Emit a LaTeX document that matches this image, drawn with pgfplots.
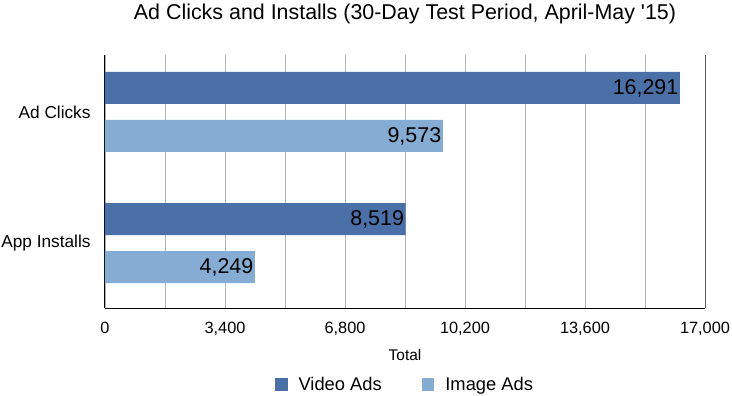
\documentclass[border=0pt]{standalone}
\usepackage{pgfplots}
\pgfplotsset{compat=1.18}
\usepackage{fontspec}
\setmainfont{Liberation Sans}
\definecolor{videoc}{HTML}{4B70A8}
\definecolor{imagec}{HTML}{85ACD3}
\begin{document}
\begin{tikzpicture}
\useasboundingbox (-105bp,-88bp) rectangle (627bp,308bp);
\begin{axis}[
  at={(0,0)}, anchor=south west,
  scale only axis, width=600bp, height=253bp,
  xmin=0, xmax=17000, ymin=-0.496, ymax=1.435,
  xbar, bar width=32bp,
  axis x line*=bottom, axis y line*=left,
  axis line style={black, line width=1bp},
  xtick={0,3400,6800,10200,13600,17000},
  minor xtick={1700,5100,8500,11900,15300},
  xmajorgrids=true, xminorgrids=true,
  grid style={draw=black!30, line width=0.9bp},
  minor grid style={draw=black!30, line width=0.9bp},
  extra x ticks={17000}, extra x tick labels={},
  extra x tick style={grid style={draw=black!65, line width=1bp}},
  major tick length=0pt, minor tick length=0pt,
  ytick={0,1}, yticklabels={App Installs,Ad Clicks},
  scaled x ticks=false,
  /pgf/number format/assume math mode=true,
  xticklabel style={font=\fontsize{16.4}{18}\selectfont, yshift=-11bp, /pgf/number format/.cd, fixed, precision=0, 1000 sep={,}},
  yticklabel style={font=\fontsize{17.3}{19}\selectfont, xshift=-11bp},
  xlabel={Total},
  xlabel style={at={(axis description cs:0.5,0)}, anchor=center, yshift=-47bp, font=\fontsize{15.5}{17}\selectfont},
  title={Ad Clicks and Installs (30-Day Test Period, April-May \textquotesingle15)},
  title style={at={(axis description cs:0.5,1)}, anchor=center, yshift=35bp, font=\fontsize{21.5}{24}\selectfont},
  point meta=x,
  nodes near coords={\pgfmathprintnumber[fixed,precision=0,1000 sep={,},assume math mode=true]{\pgfplotspointmeta}},
  nodes near coords align={anchor=east},
  every node near coord/.append style={font=\fontsize{21.5}{24}\selectfont, inner sep=1.5bp, black},
  legend columns=2,
  legend style={draw=none, at={(axis description cs:0.5,0)}, anchor=center, yshift=-76.5bp,
    font=\fontsize{18.4}{20}\selectfont,
    /tikz/every even column/.append style={column sep=38bp},
    /tikz/every odd column/.append style={column sep=9bp}},
  legend image code/.code={\fill[#1] (0bp,-6.3bp) rectangle (12.6bp,6.3bp);},
]
\addplot[fill=videoc, draw=none, bar shift=24bp] coordinates {(16291,1) (8519,0)};
\addplot[fill=imagec, draw=none, bar shift=-24bp] coordinates {(9573,1) (4249,0)};
\legend{Video Ads, Image Ads}
\end{axis}
\end{tikzpicture}
\end{document}
